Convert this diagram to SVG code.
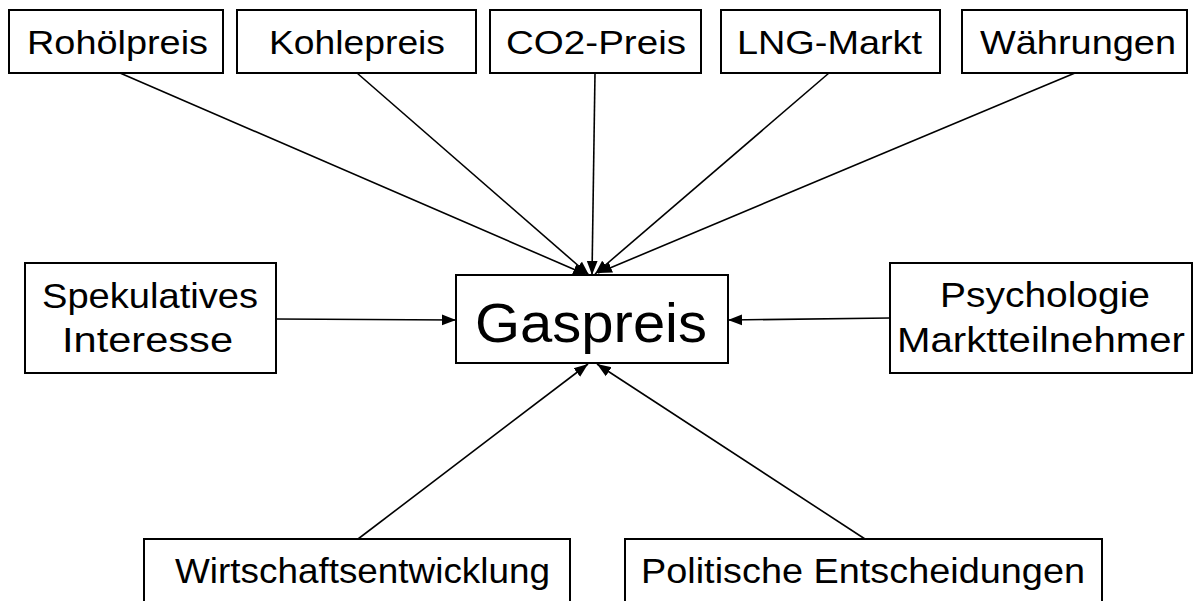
<svg xmlns="http://www.w3.org/2000/svg" width="1198" height="601" viewBox="0 0 1198 601">
<style>
.box{fill:#fff;stroke:#000;stroke-width:2}
.t{font-family:"Liberation Sans",Arial,sans-serif;font-size:34px;fill:#000;text-anchor:middle}
.m{font-size:35px}
.big{font-size:56px}
.c{stroke:#000;stroke-width:1.6;fill:none;marker-end:url(#ah)}
</style>
<defs>
<marker id="ah" markerUnits="userSpaceOnUse" markerWidth="14" markerHeight="12" refX="13" refY="5" orient="auto" viewBox="0 0 13 10">
<path d="M0,0 L13,5 L0,10 Z" fill="#000"/>
</marker>
</defs>
<rect width="1198" height="601" fill="#fff"/>
<g id="connectors">
<line class="c" x1="120" y1="73" x2="587" y2="275"/>
<line class="c" x1="357" y1="73" x2="589" y2="275"/>
<line class="c" x1="595" y1="73" x2="592" y2="275"/>
<line class="c" x1="829" y1="73" x2="595" y2="274"/>
<line class="c" x1="1075" y1="73" x2="598" y2="273"/>
<line class="c" x1="276" y1="319" x2="456" y2="320"/>
<line class="c" x1="890" y1="318" x2="728" y2="320"/>
<line class="c" x1="358" y1="539" x2="588" y2="364"/>
<line class="c" x1="865" y1="539" x2="597" y2="364"/>
</g>
<g id="rohoelpreis"><rect class="box" x="9" y="10" width="214" height="63"/><text class="t" x="117.5" y="54" textLength="181" lengthAdjust="spacingAndGlyphs">Rohölpreis</text></g>
<g id="kohlepreis"><rect class="box" x="237" y="10" width="239" height="63"/><text class="t" x="357" y="54" textLength="176" lengthAdjust="spacingAndGlyphs">Kohlepreis</text></g>
<g id="co2preis"><rect class="box" x="490" y="10" width="211" height="63"/><text class="t" x="596" y="54" textLength="180" lengthAdjust="spacingAndGlyphs">CO2-Preis</text></g>
<g id="lngmarkt"><rect class="box" x="721" y="10" width="219" height="63"/><text class="t" x="829.5" y="54" textLength="185" lengthAdjust="spacingAndGlyphs">LNG-Markt</text></g>
<g id="waehrungen"><rect class="box" x="962" y="10" width="225" height="63"/><text class="t" x="1078" y="54" textLength="196" lengthAdjust="spacingAndGlyphs">Währungen</text></g>
<g id="gaspreis"><rect class="box" x="456" y="275" width="272" height="88"/><text class="t big" x="591" y="342" textLength="232" lengthAdjust="spacingAndGlyphs">Gaspreis</text></g>
<g id="spekulatives"><rect class="box" x="25" y="263" width="251" height="110"/><text class="t m" x="150" y="308" textLength="216" lengthAdjust="spacingAndGlyphs">Spekulatives</text><text class="t m" x="147.5" y="352" textLength="171" lengthAdjust="spacingAndGlyphs">Interesse</text></g>
<g id="psychologie"><rect class="box" x="890" y="263" width="302" height="110"/><text class="t m" x="1045" y="307" textLength="210" lengthAdjust="spacingAndGlyphs">Psychologie</text><text class="t m" x="1041" y="352" textLength="288" lengthAdjust="spacingAndGlyphs">Marktteilnehmer</text></g>
<g id="wirtschaft"><rect class="box" x="144" y="539" width="426" height="75"/><text class="t m" x="362.5" y="583" textLength="375" lengthAdjust="spacingAndGlyphs">Wirtschaftsentwicklung</text></g>
<g id="politik"><rect class="box" x="625" y="539" width="477" height="75"/><text class="t m" x="863" y="583" textLength="444" lengthAdjust="spacingAndGlyphs">Politische Entscheidungen</text></g>
</svg>
